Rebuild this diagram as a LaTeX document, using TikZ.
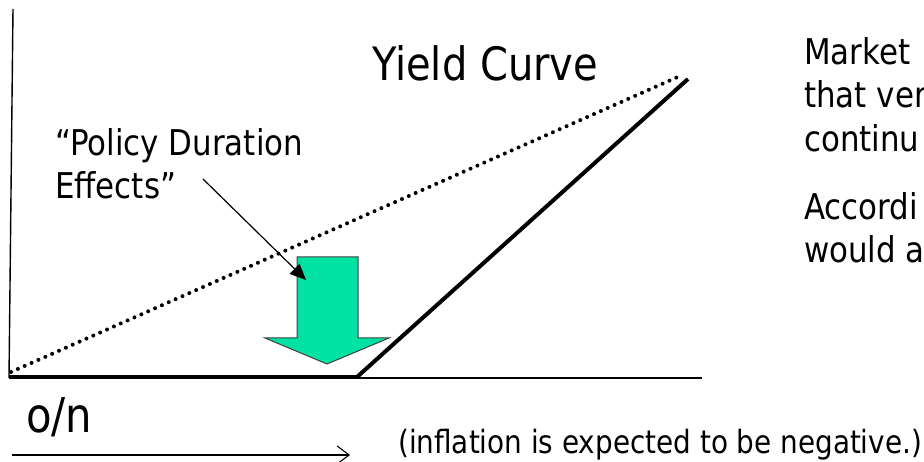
\documentclass[tikz,border=0pt]{standalone}
\usepackage{fontspec}
\setmainfont{DejaVu Sans}[FakeStretch=0.87]
\usetikzlibrary{arrows.meta,positioning,calc}
\definecolor{dropgreen}{RGB}{0,226,164}
\tikzset{
  txt/.style={anchor=base west, inner sep=0pt, font=\fontsize{35.5}{43}\selectfont},
  bigtxt/.style={txt, font=\fontsize{46}{55}\selectfont},
  smalltxt/.style={txt, font=\fontsize{32}{38}\selectfont},
  yaxis/.style={line width=1.4pt, black},
  xaxis/.style={line width=1.3pt, black},
  curve/.style={line width=4pt, black},
  fwdcurve/.style={line width=4pt, black, dash pattern=on 0pt off 7.5pt, line cap=round},
  pointer/.style={-{Triangle[length=16pt,width=14pt]}, line width=1.2pt},
  timearrow/.style={-{Straight Barb[length=12pt,width=18pt]}, line width=1.1pt}
}

\begin{document}
\begin{tikzpicture}[x=1pt,y=-1pt]
  \useasboundingbox (0,0) rectangle (924,462);
  \clip (0,0) rectangle (924,462);
  % axes and curves
  \coordinate (O) at (9,378);
  \coordinate (ytop) at (13,9);
  \coordinate (xend) at (702,378);
  \coordinate (flat0) at (9,377);
  \coordinate (kink) at (357,377);
  \coordinate (spot) at (688,79);
  \coordinate (fwd0) at (11,372);
  \coordinate (fwd1) at (680,76);
  \draw[yaxis] (O) -- (ytop);
  \draw[xaxis] (O) -- (xend);
  \draw[fwdcurve] (fwd0) -- (fwd1);
  \draw[curve] (flat0) -- (kink);
  \draw[curve] (kink) -- (spot);
  % downward shift
  \draw[fill=dropgreen, draw=black!75, line width=1pt]
    (297,257) -- (358,257) -- (358,338) -- (389,338) -- (327,364) -- (265,338) -- (297,338) -- cycle;
  \coordinate (pdtip) at (306,280);
  % labels
  \node[bigtxt] (title) at (372,81) {Yield Curve};
  \node[txt] (pde1) at (55,156) {“Policy Duration};
  \node[txt] (pde2) at (55,199) {Effects”};
  \coordinate (pdtail) at (203,179);
  \draw[pointer] (pdtail) -- (pdtip);
  \node[txt] (mkt1) at (804,65) {Market};
  \node[txt] (mkt2) at (804,108) {that ver};
  \node[txt] (mkt3) at (804,152) {continu};
  \node[txt] (acc1) at (804,220) {Accordi};
  \node[txt] (acc2) at (804,263) {would a};
  \node[bigtxt, font=\fontsize{48}{57}\selectfont] (on) at (26,432) {o/n};
  \coordinate (t0) at (12,455);
  \coordinate (t1) at (350,455);
  \draw[timearrow] (t0) -- (t1);
  \node[smalltxt] (infl) at (398,453) {(inflation is expected to be negative.)};
\end{tikzpicture}
\end{document}
